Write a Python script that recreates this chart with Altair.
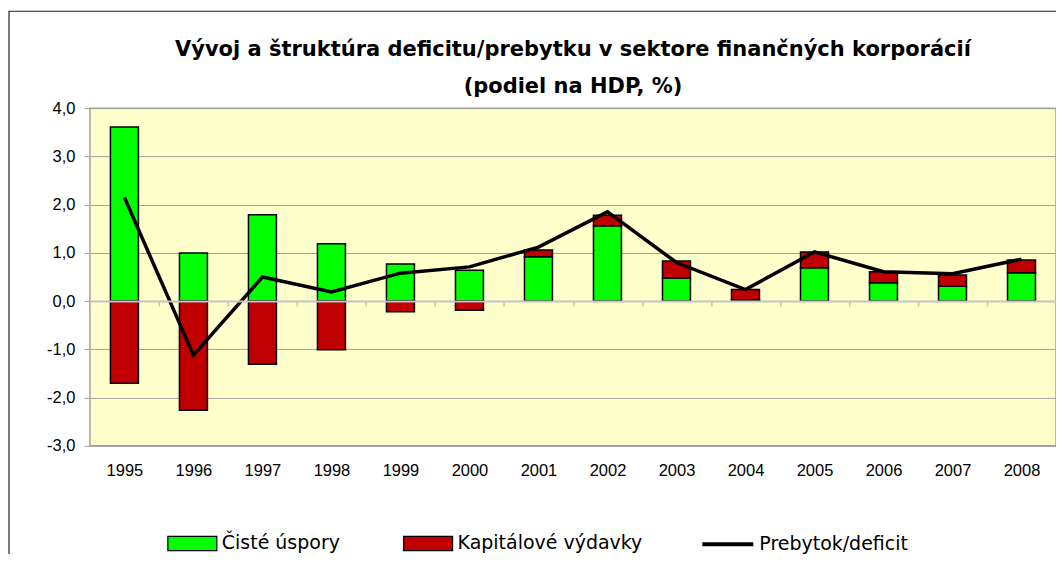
import altair as alt
import pandas as pd

years = ["1995", "1996", "1997", "1998", "1999", "2000", "2001",
         "2002", "2003", "2004", "2005", "2006", "2007", "2008"]
ciste = [3.61, 1.00, 1.79, 1.19, 0.77, 0.64, 0.92, 1.56, 0.48, 0.03, 0.69, 0.38, 0.31, 0.59]
kap = [-1.70, -2.26, -1.31, -1.01, -0.22, -0.19, 0.14, 0.22, 0.35, 0.21, 0.33, 0.23, 0.23, 0.26]
saldo = [2.15, -1.12, 0.50, 0.19, 0.58, 0.71, 1.12, 1.85, 0.80, 0.24, 1.02, 0.61, 0.57, 0.87]
bar_series = ["Čisté úspory", "Kapitálové výdavky"]
line_series = ["Prebytok/deficit"]
y_ticks = [-3, -2, -1, 0, 1, 2, 3, 4]
title_lines = ["Vývoj a štruktúra deficitu/prebytku v sektore finančných korporácií",
               "(podiel na HDP, %)"]

rows = []
for i, yr in enumerate(years):
    rows.append({"rok": yr, "seria": bar_series[0], "hodnota": ciste[i], "poradie": 0})
    rows.append({"rok": yr, "seria": bar_series[1], "hodnota": kap[i], "poradie": 1})
bars_df = pd.DataFrame(rows)
line_df = pd.DataFrame({"rok": years, "seria": line_series[0], "hodnota": saldo})

W, H = 967, 338
zero_off = -(H - H * 4 / 7)

x_enc = alt.X(
    "rok:N", sort=years, title=None,
    scale=alt.Scale(paddingInner=0, paddingOuter=0),
    axis=alt.Axis(
        offset=zero_off, domainColor="#C4C4C4", domainWidth=2,
        ticks=True, tickBand="extent", tickColor="#C4C4C4", tickSize=5, tickWidth=1.5,
        labelPadding=157, labelFont="Liberation Sans", labelFontSize=16.5,
        labelColor="black", labelAngle=0, grid=False, zindex=1,
    ),
)
y_scale = alt.Scale(domain=[-3, 4], nice=False, zero=False)
y_axis = alt.Axis(
    values=y_ticks, title=None,
    labelExpr="replace(replace(format(datum.value, '.1f'), '.', ','), '\u2212', '-')",
    labelFont="Liberation Sans", labelFontSize=16.5, labelColor="black",
    labelPadding=9, tickColor="#A0A0A0", tickSize=6, domain=False,
    grid=True, gridColor="#A0A0A0", gridWidth=1,
)

bars = alt.Chart(bars_df).mark_bar(size=28, stroke="black", strokeWidth=1.5).encode(
    x=x_enc,
    y=alt.Y("hodnota:Q", scale=y_scale, axis=y_axis, stack="zero"),
    order=alt.Order("poradie:Q", sort="ascending"),
    fill=alt.Fill(
        "seria:N",
        scale=alt.Scale(domain=bar_series, range=["#00FF00", "#C00000"]),
        legend=alt.Legend(
            orient="none", legendX=77, legendY=410, direction="horizontal",
            title=None, symbolType="M-1,-0.29L1,-0.29L1,0.29L-1,0.29Z", symbolSize=2401,
            symbolStrokeColor="black", symbolStrokeWidth=1.2, symbolOpacity=1,
            labelFont="DejaVu Sans", labelFontSize=19, labelColor="black", labelOffset=4,
            columnPadding=60, labelLimit=300,
        ),
    ),
)

line = alt.Chart(line_df).mark_line(strokeWidth=3.5).encode(
    x=alt.X("rok:N", sort=years),
    y=alt.Y("hodnota:Q", scale=y_scale),
    stroke=alt.Stroke(
        "seria:N",
        scale=alt.Scale(domain=line_series, range=["black"]),
        legend=alt.Legend(
            orient="none", legendX=611, legendY=409, direction="horizontal",
            title=None, symbolType="stroke", symbolSize=2601, symbolStrokeWidth=4,
            labelFont="DejaVu Sans", labelFontSize=19, labelColor="black", labelOffset=4,
            labelLimit=300,
        ),
    ),
)

frame = alt.Chart(pd.DataFrame({"a": [0]})).mark_rect(
    fill=None, stroke="#222222", strokeWidth=1.2
).encode(
    x=alt.value(-81), x2=alt.value(1000), y=alt.value(-97), y2=alt.value(700)
)

chart = alt.layer(frame, bars, line).properties(
    width=W, height=H,
    autosize=alt.AutoSizeParams(type="none"),
    padding={"left": 82, "top": 100, "right": 0, "bottom": 108},
    background="white",
    title=alt.Title(
        title_lines, font="DejaVu Sans", fontSize=21, fontWeight="bold",
        lineHeight=37, anchor="middle", offset=10, dy=96, color="black", frame="group",
    ),
).configure_view(
    fill="#FFFFCC", stroke="#A0A0A0", strokeWidth=1.5
)

chart.save("out.html", embed_options={"renderer": "svg", "actions": False})
